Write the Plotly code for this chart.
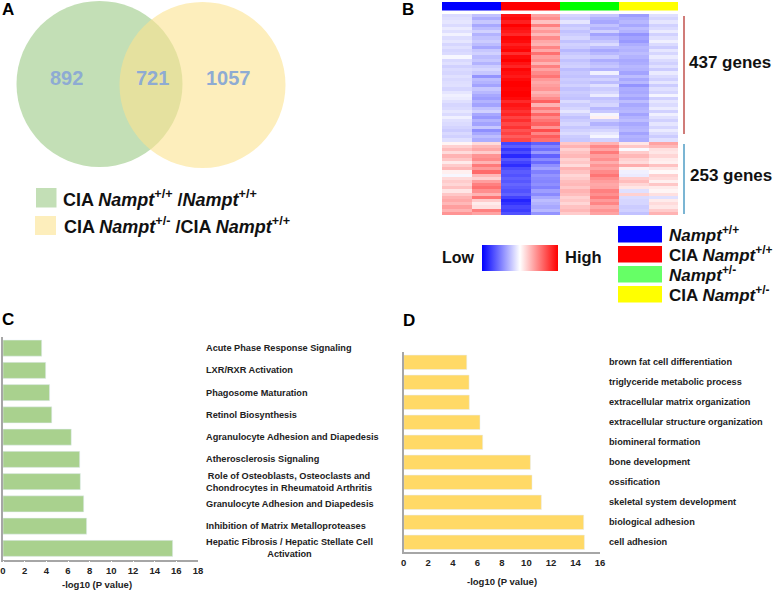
import plotly.graph_objects as go

W, H = 778, 590

# panel A
venn_counts = ["892", "721", "1057"]
venn_legend = [
    "CIA <i>Nampt</i><sup>+/+</sup> /<i>Nampt</i><sup>+/+</sup>",
    "CIA <i>Nampt</i><sup>+/-</sup> /CIA <i>Nampt</i><sup>+/+</sup>",
]

# panel B, read row by row, top to bottom
col_wt_1 = [
    -.14, -.12, -.10, -.14, -.08, -.12, -.05, -.13, -.10, -.16, -.12, -.16, -.14, -.03, -.15, -.12, -.18, -.14, -.16, -.12,
    -.15, -.13, -.12, -.16, -.10, -.06, -.08, -.12, -.16, -.14, -.10, -.14, -.06, -.12, -.14, -.17, -.20, -.15, -.18, -.12,
    .04, .18, .26, .14, .30, .22, .08, .20, .28, .06, -.03, .14, .20, .16, .24, .10, .22, .30, .34, .28, .38, .30, .42,
]
col_wt_2 = [
    -.24, -.32, -.22, -.34, -.26, -.18, -.30, -.24, -.20, -.26, -.34, -.22, -.18, -.26, -.22, -.30, -.20, -.16, -.22, -.42,
    -.26, -.30, -.36, -.22, -.28, -.34, -.38, -.30, -.36, -.24, -.18, -.34, -.40, -.30, -.36, -.22, -.44, -.34, -.26, -.32,
    .14, .28, .34, .20, .42, .46, .30, .52, .40, .58, .28, .18, .38, .50, .56, .44, .30, .54, .20, .08, .12, .50, .36,
]
col_cia_wt_1 = [
    .92, .96, .88, 1.0, .94, .90, .84, .98, .96, .88, .94, .98, .82, .96, 1.0, .92, .86, .98, .94, .90,
    .96, 1.0, 1.0, .98, 1.0, 1.0, .96, .84, .92, .88, .80, .86, .74, .82, .72, .80, .68, .74, .64, .72,
    -.72, -.64, -.78, -.70, -.84, -.66, -.74, -.82, -.70, -.64, -.68, -.62, -.66, -.60, -.64, -.68, -.62, -.74, -.86, -.80, -.72, -.76, -.68,
]
col_cia_wt_2 = [
    .36, .44, .24, .50, .30, .40, .28, .46, .34, .30, .48, .34, .56, .38, .44, .30, .50, .36, .46, .54,
    .40, .34, .38, .42, .30, .36, .46, .62, .30, .52, .38, .60, .46, .54, .62, .42, .70, .48, .64, .56,
    -.62, -.48, -.56, -.40, -.62, -.46, -.58, -.44, -.36, -.50, -.42, -.46, -.48, -.44, -.50, -.38, -.46, -.34, -.26, -.30, -.34, -.28, -.42,
]
col_het_1 = [
    -.16, -.20, -.10, -.22, -.18, -.24, -.20, -.16, -.24, -.18, -.20, -.28, -.22, -.18, -.24, -.20, -.18, -.26, -.22, -.24,
    -.20, -.22, -.18, -.24, -.20, -.22, -.24, -.14, -.20, -.16, -.10, -.18, -.24, -.20, -.16, -.22, -.18, -.14, -.20, -.22,
    .22, .30, .18, .24, .28, .18, .22, .14, .30, .24, .16, .20, .26, .28, .22, .30, .26, .18, .22, .16, .24, .28, .20,
]
col_het_2 = [
    -.22, -.30, -.34, -.24, -.30, -.18, -.36, -.28, -.22, -.14, -.26, -.34, -.28, -.20, -.32, -.26, -.22, -.30, -.06, -.24,
    -.18, -.26, -.12, -.20, -.16, -.08, -.24, -.20, -.16, -.28, -.22, -.04, .06, -.20, -.30, -.22, -.16, -.10, -.04, -.18,
    .30, .46, .36, .52, .38, .44, .32, .42, .36, .46, .54, .44, .38, .34, .36, .50, .44, .52, .40, .48, .34, .42, .36,
]
col_cia_het_1 = [
    -.38, -.32, -.28, -.34, -.26, -.30, -.42, -.36, -.40, -.32, -.28, -.30, -.26, -.30, -.34, -.32, -.28, -.30, -.36, -.26,
    -.34, -.28, -.42, -.32, -.34, -.30, -.36, -.26, -.34, -.30, -.28, -.36, -.30, -.26, -.34, -.30, -.28, -.36, -.30, -.32,
    .10, .22, -.02, .20, .28, .18, .14, .32, .06, -.06, -.08, .20, .26, .16, .10, -.12, .18, -.14, -.16, -.16, -.20, -.18, -.24,
]
col_cia_het_2 = [
    -.12, -.16, -.10, -.18, -.14, -.08, -.18, -.12, -.06, -.14, -.20, -.10, -.16, -.08, -.14, -.18, -.12, -.20, -.08, -.14,
    -.18, -.10, -.20, -.12, -.16, -.04, -.18, -.10, -.14, -.08, -.18, -.06, -.12, -.18, -.10, -.16, -.08, -.14, -.20, -.12,
    .36, .28, .12, .10, .16, .08, .06, .24, .10, .02, .18, .14, .06, .22, .08, .04, .12, -.12, .08, .14, .10, .20, .30,
]
heat_columns = [
    col_wt_1, col_wt_2, col_cia_wt_1, col_cia_wt_2,
    col_het_1, col_het_2, col_cia_het_1, col_cia_het_2,
]
group_colors = ["#0000ff", "#ff0000", "#00ff00", "#ffff00"]
legend_colors = ["#0000ff", "#ff0000", "#66ff66", "#ffff00"]
group_names = [
    "<i>Nampt</i><sup>+/+</sup>",
    "CIA <i>Nampt</i><sup>+/+</sup>",
    "<i>Nampt</i><sup>+/-</sup>",
    "CIA <i>Nampt</i><sup>+/-</sup>",
]

# panel C
pathways = [
    "Acute Phase Response Signaling",
    "LXR/RXR Activation",
    "Phagosome Maturation",
    "Retinol Biosynthesis",
    "Agranulocyte Adhesion and Diapedesis",
    "Atherosclerosis Signaling",
    "Role of Osteoblasts, Osteoclasts and<br>Chondrocytes in Rheumatoid Arthritis",
    "Granulocyte Adhesion and Diapedesis",
    "Inhibition of Matrix Metalloproteases",
    "Hepatic Fibrosis / Hepatic Stellate Cell<br>Activation",
]
pathway_values = [3.57, 3.94, 4.3, 4.5, 6.3, 7.08, 7.14, 7.45, 7.72, 15.66]

# panel D
go_terms = [
    "brown fat cell differentiation",
    "triglyceride metabolic process",
    "extracellular matrix organization",
    "extracellular structure organization",
    "biomineral formation",
    "bone development",
    "ossification",
    "skeletal system development",
    "biological adhesion",
    "cell adhesion",
]
go_values = [5.14, 5.33, 5.35, 6.22, 6.44, 10.33, 10.46, 11.22, 14.67, 14.73]

FONT = "Liberation Sans"
INK = "#222222"
AXIS_GREY = "#a6a6a6"


def px_x(v):
    return v / W


def px_y(v):
    return 1 - v / H


def dom_x(a, b):
    return [px_x(a), px_x(b)]


def dom_y(top, bottom):
    return [px_y(bottom), px_y(top)]


def note(x, y, text, size, color=INK, xanchor="left", yref="paper", align="left"):
    fig.add_annotation(
        x=x, y=y, text=text, xref="paper", yref=yref,
        xanchor=xanchor, yanchor="middle", align=align, showarrow=False,
        borderpad=0, borderwidth=0,
        font={"family": FONT, "size": size, "color": color, "weight": 700},
    )


def rect(x0, y0, x1, y1, color):
    fig.add_shape(
        type="rect", xref="paper", yref="paper",
        x0=px_x(x0), x1=px_x(x1), y0=px_y(y0), y1=px_y(y1),
        fillcolor=color, line_width=0, layer="above",
    )


fig = go.Figure()

fig.add_trace(go.Bar(
    x=pathway_values, y=pathways, orientation="h",
    marker_color="#a9d18e", xaxis="x", yaxis="y", showlegend=False,
))
fig.add_trace(go.Bar(
    x=go_values, y=go_terms, orientation="h",
    marker_color="#ffd966", xaxis="x2", yaxis="y2", showlegend=False,
))

# the Low/High key is the heatmap's own colorbar
rows = list(range(len(col_wt_1)))
fig.add_trace(go.Heatmap(
    z=[list(r) for r in zip(*heat_columns)],
    x=list(range(8)), y=rows,
    zmin=-1, zmax=1,
    colorscale=[[0, "#0000ff"], [0.5, "#ffffff"], [1, "#ff0000"]],
    xaxis="x3", yaxis="y3",
    colorbar={
        "orientation": "h",
        "x": px_x(482), "xanchor": "left",
        "y": px_y(271), "yanchor": "bottom",
        "len": 76, "lenmode": "pixels",
        "thickness": 26, "thicknessmode": "pixels",
        "showticklabels": False, "ticks": "",
        "outlinewidth": 0, "xpad": 0, "ypad": 0,
    },
))
fig.add_trace(go.Heatmap(
    z=[[0, 1, 2, 3]],
    zmin=0, zmax=3,
    colorscale=[
        [0, group_colors[0]], [1 / 3, group_colors[1]],
        [2 / 3, group_colors[2]], [1, group_colors[3]],
    ],
    showscale=False, xaxis="x4", yaxis="y4",
))

tick_style = {
    "showgrid": False, "zeroline": False, "showline": True,
    "linecolor": AXIS_GREY, "linewidth": 1.5,
    "ticks": "outside", "ticklen": 1, "tickcolor": "#ffffff",
    "tickfont": {"family": FONT, "size": 9.5, "color": INK, "weight": 700},
    "dtick": 2,
}
cat_style = {
    "showgrid": False, "zeroline": False, "showline": True,
    "linecolor": AXIS_GREY, "linewidth": 1.5,
    "showticklabels": False, "ticks": "",
    "autorange": "reversed",
}
hidden = {"visible": False}

fig.update_layout(
    width=W, height=H,
    autosize=False,
    paper_bgcolor="#ffffff", plot_bgcolor="#ffffff",
    margin={"l": 0, "r": 0, "t": 0, "b": 0, "pad": 0, "autoexpand": False},
    showlegend=False,
    bargap=0.28,
    xaxis=dict(tick_style, domain=dom_x(3, 198), range=[0, 18], anchor="y"),
    yaxis=dict(cat_style, domain=dom_y(337, 559.5), anchor="x"),
    xaxis2=dict(tick_style, domain=dom_x(403.7, 600), range=[0, 16], anchor="y2"),
    yaxis2=dict(cat_style, domain=dom_y(352.3, 552.3), anchor="x2"),
    xaxis3=dict(hidden, domain=dom_x(442, 678), range=[-0.5, 7.5], anchor="y3"),
    yaxis3=dict(hidden, domain=dom_y(14, 215), range=[len(rows) - 0.5, -0.5], anchor="x3"),
    xaxis4=dict(hidden, domain=dom_x(442, 678), anchor="y4"),
    yaxis4=dict(hidden, domain=dom_y(2, 10.5), anchor="x4"),
)

# venn circles
for cx, cy, r, color, alpha in [(99.5, 84, 83, "#c3dfb6", 1), (202.5, 85, 83, "#fce38f", 0.6)]:
    fig.add_shape(
        type="circle", xref="paper", yref="paper",
        x0=px_x(cx - r), x1=px_x(cx + r), y0=px_y(cy + r), y1=px_y(cy - r),
        fillcolor=color, opacity=alpha, line_width=0,
    )
for xc, label in zip([66, 152, 228], venn_counts):
    note(px_x(xc), px_y(78), label, 20, "#8eabd3", "center")

rect(36, 188, 56.5, 207.5, "#c3dfb6")
rect(35, 216, 56, 235, "#fdeebc")
note(px_x(63), px_y(198), venn_legend[0], 18, "#111111")
note(px_x(64), px_y(226), venn_legend[1], 18, "#111111")

# panel B extras
fig.add_shape(type="line", xref="paper", yref="paper",
              x0=px_x(684), x1=px_x(684), y0=px_y(16), y1=px_y(134),
              line={"color": "#c0504d", "width": 1.5})
fig.add_shape(type="line", xref="paper", yref="paper",
              x0=px_x(684), x1=px_x(684), y0=px_y(144), y1=px_y(214),
              line={"color": "#4f9cc4", "width": 1.5})
note(px_x(689), px_y(63), "437 genes", 17, "#111111")
note(px_x(690), px_y(176), "253 genes", 17, "#111111")
note(px_x(442), px_y(257), "Low", 16, "#111111")
note(px_x(565), px_y(257), "High", 16.5, "#111111")
for top, color, name in zip([226, 246, 266, 286], legend_colors, group_names):
    rect(618, top, 662, top + 16.5, color)
    note(px_x(669), px_y(top + 8), name, 17, "#111111")

# panel letters
for xp, yp, letter in [(2, 10, "A"), (402, 9.5, "B"), (2, 319, "C"), (403, 320, "D")]:
    note(px_x(xp), px_y(yp), letter, 17, "#000000")

for name in pathways:
    note(px_x(206), name, name, 9.2, INK, yref="y", align="center")
for name in go_terms:
    note(px_x(608.7), name, name, 9.2, INK, yref="y2")

note(px_x(97), px_y(584), "-log10 (P value)", 9.5, INK, "center")
note(px_x(501.7), px_y(581.7), "-log10 (P value)", 9.5, INK, "center")

# the page's default body margin would push the figure 8px in
fig.write_html(
    "out.html",
    config={"displayModeBar": False},
    post_script="document.body.style.margin = '0';",
)
